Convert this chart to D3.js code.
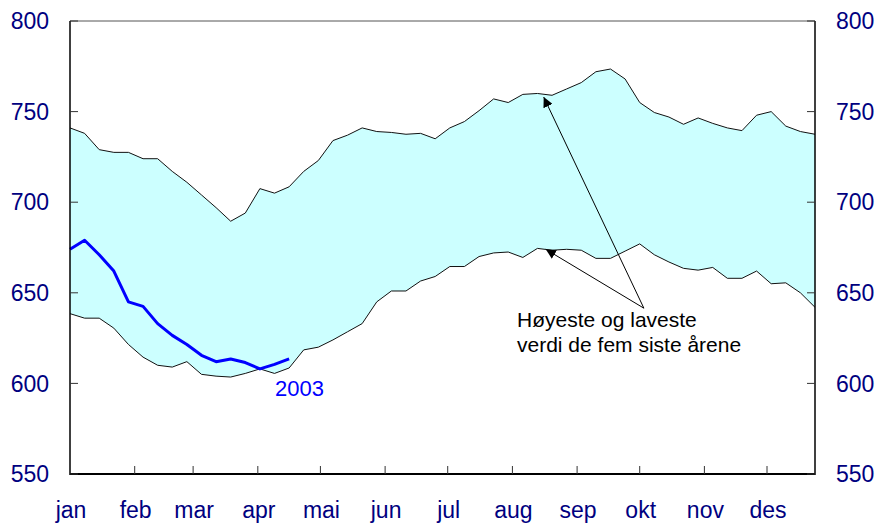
<!DOCTYPE html>
<html>
<head>
<meta charset="utf-8">
<script src="https://cdn.jsdelivr.net/npm/d3@7"></script>
<style>
  body { margin: 0; background: #fff; }
  text { font-family: "Liberation Sans", Arial, sans-serif; }
</style>
</head>
<body>
<div class="chart"></div>
<script>
// ukedata, uke 1-52
var weeks = [1,2,3,4,5,6,7,8,9,10,11,12,13,14,15,16,17,18,19,20,21,22,23,24,25,26,
             27,28,29,30,31,32,33,34,35,36,37,38,39,40,41,42,43,44,45,46,47,48,49,50,51,52];

// høyeste verdi de fem siste årene
var hoy = [741,738,729,727.5,727.5,724,724,717,711,704,697,689.5,694,707.5,705,708.5,717,723,
           734,737,741,739,738.5,737.5,738,735,741,744.5,750.5,757,755,759.5,760,759,762.5,766,
           772,773.5,768,755,749.5,747,743,746.5,743.5,741,739.5,748,750,742,739,737.5];

// laveste verdi de fem siste årene
var lav = [638.5,636,636,630.5,621.5,614.5,610,609,612,605,604,603.5,605.5,608,605.5,608.5,618.5,620,
           624,628.5,633,645,651,651,656.5,659,664.5,664.5,670,672,672.5,669.5,674.5,673.5,674,673.5,
           669,669,673,677,671,667,663.5,662.5,664,658,658,662,655,655.5,650,642];

// 2003
var ar2003 = [674,679,671,662,645,642.5,633,626.5,621.5,615.5,612,613.5,611.5,608,610.5,613.5];

var months = ["jan","feb","mar","apr","mai","jun","jul","aug","sep","okt","nov","des"];
var yTicks = [550,600,650,700,750,800];

var w = 880, h = 523;
var pLeft = 70, pRight = 815, pTop = 21, pBottom = 474;
var start = new Date(2003, 0, 1);
function weekDate(wk) { return d3.timeDay.offset(start, (wk - 1) * 7); }

var x = d3.scaleTime()
  .domain([start, weekDate(52)])
  .range([pLeft, pRight]);
var y = d3.scaleLinear().domain([550, 800]).range([pBottom, pTop]);

var svg = d3.select(".chart").append("svg")
  .attr("width", w)
  .attr("height", h);

var band = weeks.map(function(wk, i) { return {d: weekDate(wk), hi: hoy[i], lo: lav[i]}; });

svg.append("path")
  .datum(band)
  .attr("fill", "#ccffff")
  .attr("d", d3.area().x(function(d) { return x(d.d); })
    .y0(function(d) { return y(d.lo); })
    .y1(function(d) { return y(d.hi); }));

var line = d3.line().x(function(d) { return x(d.d); }).y(function(d) { return y(d.v); });

svg.append("path")
  .datum(band.map(function(d) { return {d: d.d, v: d.hi}; }))
  .attr("fill", "none").attr("stroke", "#111").attr("stroke-width", 1)
  .attr("d", line);
svg.append("path")
  .datum(band.map(function(d) { return {d: d.d, v: d.lo}; }))
  .attr("fill", "none").attr("stroke", "#111").attr("stroke-width", 1)
  .attr("d", line);

var s2003 = ar2003.map(function(v, i) { return {d: weekDate(weeks[i]), v: v}; });
svg.append("path")
  .datum(s2003)
  .attr("fill", "none").attr("stroke", "#0000ff").attr("stroke-width", 3)
  .attr("stroke-linejoin", "round")
  .attr("d", line);

var last = s2003[s2003.length - 1];
svg.append("text")
  .attr("x", x(last.d) - 14)
  .attr("y", y(last.v) + 37)
  .attr("fill", "#0000ff")
  .style("font-size", "22px")
  .text("2003");

// annotasjon med piler
svg.append("defs").append("marker")
  .attr("id", "pil")
  .attr("viewBox", "0 0 10 10")
  .attr("refX", 10).attr("refY", 5)
  .attr("markerWidth", 10).attr("markerHeight", 10)
  .attr("markerUnits", "userSpaceOnUse")
  .attr("orient", "auto")
  .append("path").attr("d", "M0,0L10,5L0,10Z").attr("fill", "#000");

var fra = {d: d3.timeDay.offset(start, 275), v: 641.5};
var mal = [{d: d3.timeDay.offset(start, 227), v: 758}, {d: d3.timeDay.offset(start, 228), v: 674}];
mal.forEach(function(m) {
  svg.append("line")
    .attr("x1", x(fra.d)).attr("y1", y(fra.v))
    .attr("x2", x(m.d)).attr("y2", y(m.v))
    .attr("stroke", "#000").attr("stroke-width", 1)
    .attr("marker-end", "url(#pil)");
});

var ann = svg.append("text").attr("fill", "#000").style("font-size", "21px");
ann.append("tspan").attr("x", 517).attr("y", 327).text("Høyeste og laveste");
ann.append("tspan").attr("x", 517).attr("y", 352).text("verdi de fem siste årene");

// ramme og akser
svg.append("line").attr("x1", pLeft).attr("x2", pRight).attr("y1", pTop).attr("y2", pTop)
  .attr("stroke", "#555").attr("stroke-width", 1);
svg.append("line").attr("x1", pLeft).attr("x2", pLeft).attr("y1", pTop).attr("y2", pBottom + 1)
  .attr("stroke", "#000").attr("stroke-width", 1.5);
svg.append("line").attr("x1", pRight).attr("x2", pRight).attr("y1", pTop).attr("y2", pBottom + 1)
  .attr("stroke", "#000").attr("stroke-width", 1.5);
svg.append("line").attr("x1", pLeft).attr("x2", pRight).attr("y1", pBottom).attr("y2", pBottom)
  .attr("stroke", "#000").attr("stroke-width", 2);

yTicks.forEach(function(t) {
  svg.append("line").attr("x1", pLeft).attr("x2", pLeft + 8).attr("y1", y(t)).attr("y2", y(t))
    .attr("stroke", "#333");
  svg.append("line").attr("x1", pRight - 8).attr("x2", pRight).attr("y1", y(t)).attr("y2", y(t))
    .attr("stroke", "#333");
  svg.append("text").attr("x", 49).attr("y", y(t)).attr("dy", "0.36em")
    .attr("text-anchor", "end").attr("fill", "#000080").style("font-size", "23px").text(t);
  svg.append("text").attr("x", 836).attr("y", y(t)).attr("dy", "0.36em")
    .attr("text-anchor", "start").attr("fill", "#000080").style("font-size", "23px").text(t);
});

var monthStarts = d3.timeMonth.range(start, new Date(2004, 0, 1));
monthStarts.forEach(function(m, i) {
  if (i > 0) {
    svg.append("line").attr("x1", x(m)).attr("x2", x(m)).attr("y1", pBottom).attr("y2", pBottom - 8)
      .attr("stroke", "#333");
  }
  svg.append("text").attr("x", x(m) + 1).attr("y", 518)
    .attr("text-anchor", "middle").attr("fill", "#000080").style("font-size", "23px")
    .text(months[i]);
});
</script>
</body>
</html>
